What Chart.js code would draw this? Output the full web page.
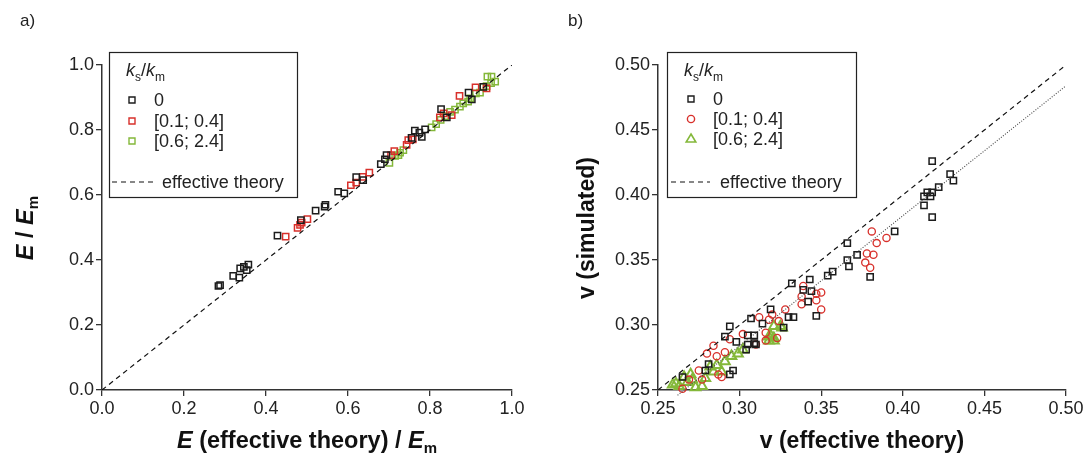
<!DOCTYPE html>
<html>
<head>
<meta charset="utf-8">
<script src="https://cdn.jsdelivr.net/npm/chart.js@4.4.0/dist/chart.umd.min.js"></script>
<style>
  html, body { margin: 0; padding: 0; background: #fff; }
  #wrap { position: relative; width: 1088px; height: 464px; }
  canvas { position: absolute; top: 0; }
  #panel-a { left: 0; }
  #panel-b { left: 544px; }
</style>
</head>
<body>
<div id="wrap">
  <canvas id="panel-a" width="544" height="464"></canvas>
  <canvas id="panel-b" width="544" height="464"></canvas>
</div>
<script>
// ---- panel a) : E / Em ----
var aBlackX = [0.284, 0.288, 0.320, 0.335, 0.337, 0.346, 0.353, 0.357, 0.428, 0.485, 0.521, 0.543, 0.545, 0.576, 0.591, 0.620, 0.637, 0.680, 0.690, 0.694, 0.755, 0.763, 0.774, 0.780, 0.788, 0.827, 0.841, 0.894, 0.902, 0.930];
var aBlackY = [0.320, 0.323, 0.351, 0.346, 0.374, 0.379, 0.369, 0.386, 0.475, 0.523, 0.552, 0.564, 0.570, 0.610, 0.605, 0.655, 0.646, 0.695, 0.710, 0.723, 0.776, 0.798, 0.792, 0.779, 0.802, 0.864, 0.839, 0.915, 0.894, 0.933];
var aRedX = [0.448, 0.477, 0.483, 0.487, 0.501, 0.607, 0.620, 0.636, 0.652, 0.705, 0.713, 0.743, 0.747, 0.758, 0.824, 0.833, 0.853, 0.872, 0.911, 0.938];
var aRedY = [0.472, 0.499, 0.508, 0.515, 0.526, 0.630, 0.638, 0.656, 0.669, 0.723, 0.735, 0.754, 0.769, 0.771, 0.839, 0.851, 0.846, 0.905, 0.931, 0.928];
var aGreenX = [0.701, 0.715, 0.723, 0.727, 0.735, 0.804, 0.815, 0.826, 0.837, 0.849, 0.861, 0.873, 0.881, 0.893, 0.898, 0.912, 0.922, 0.930, 0.938, 0.940, 0.949, 0.950, 0.959];
var aGreenY = [0.699, 0.720, 0.723, 0.730, 0.738, 0.808, 0.818, 0.831, 0.843, 0.856, 0.863, 0.872, 0.882, 0.887, 0.897, 0.913, 0.915, 0.933, 0.935, 0.964, 0.944, 0.964, 0.949];
var aTheoryX = [0, 1];
var aTheoryY = [0, 1];

// ---- panel b) : v ----
var bBlackX = [0.265, 0.279, 0.281, 0.291, 0.294, 0.294, 0.296, 0.298, 0.304, 0.305, 0.305, 0.307, 0.309, 0.309, 0.310, 0.314, 0.319, 0.327, 0.330, 0.333, 0.332, 0.339, 0.342, 0.343, 0.344, 0.347, 0.354, 0.357, 0.366, 0.366, 0.367, 0.372, 0.380, 0.395, 0.413, 0.413, 0.415, 0.417, 0.418, 0.418, 0.418, 0.422, 0.429, 0.431];
var bBlackY = [0.260, 0.265, 0.270, 0.291, 0.262, 0.299, 0.265, 0.287, 0.281, 0.285, 0.292, 0.305, 0.286, 0.292, 0.285, 0.301, 0.312, 0.298, 0.306, 0.306, 0.332, 0.327, 0.318, 0.335, 0.326, 0.307, 0.338, 0.341, 0.363, 0.350, 0.345, 0.354, 0.337, 0.372, 0.392, 0.399, 0.402, 0.399, 0.402, 0.426, 0.383, 0.406, 0.416, 0.411];
var bRedX = [0.265, 0.269, 0.275, 0.277, 0.280, 0.284, 0.286, 0.287, 0.289, 0.291, 0.294, 0.302, 0.310, 0.312, 0.316, 0.316, 0.318, 0.320, 0.323, 0.324, 0.328, 0.338, 0.338, 0.339, 0.347, 0.347, 0.350, 0.350, 0.377, 0.378, 0.380, 0.381, 0.382, 0.384, 0.390];
var bRedY = [0.251, 0.258, 0.265, 0.258, 0.278, 0.284, 0.276, 0.262, 0.260, 0.279, 0.289, 0.293, 0.285, 0.306, 0.288, 0.294, 0.304, 0.308, 0.290, 0.303, 0.312, 0.316, 0.322, 0.330, 0.319, 0.324, 0.312, 0.325, 0.348, 0.355, 0.344, 0.372, 0.354, 0.363, 0.367];
var bGreenX = [0.259, 0.261, 0.263, 0.266, 0.268, 0.270, 0.271, 0.273, 0.277, 0.279, 0.282, 0.284, 0.286, 0.289, 0.291, 0.295, 0.299, 0.302, 0.318, 0.318, 0.319, 0.321, 0.321, 0.321, 0.325, 0.326];
var bGreenY = [0.254, 0.255, 0.253, 0.260, 0.256, 0.262, 0.258, 0.252, 0.253, 0.259, 0.268, 0.264, 0.269, 0.264, 0.272, 0.276, 0.278, 0.281, 0.288, 0.291, 0.292, 0.288, 0.290, 0.299, 0.299, 0.298];
var bTheoryX = [0.25, 0.50];
var bTheoryY = [0.25, 0.50];
var bFitX = [0.262, 0.50];
var bFitY = [0.246, 0.484];

var legendLabels = ["0", "[0.1; 0.4]", "[0.6; 2.4]"];
var theoryLabel = "effective theory";

var BLACK = "#1c1c1c";
var RED = "#d8302b";
var GREEN = "#84b83a";
var FONT = "'Liberation Sans', Arial, Helvetica, sans-serif";

Chart.defaults.font.family = FONT;
Chart.defaults.color = "#222";

function points(xs, ys) {
  return xs.map(function (x, i) { return { x: x, y: ys[i] }; });
}

function richText(ctx, parts, x, y, align) {
  var total = 0;
  parts.forEach(function (p) {
    ctx.font = p.font;
    p.w = ctx.measureText(p.t).width;
    total += p.w;
  });
  var cx = align === "center" ? x - total / 2 : x;
  ctx.textAlign = "left";
  ctx.textBaseline = "alphabetic";
  parts.forEach(function (p) {
    ctx.font = p.font;
    ctx.fillText(p.t, cx, y + (p.dy || 0));
    cx += p.w;
  });
}

function marker(ctx, style, x, y, color) {
  ctx.save();
  ctx.strokeStyle = color;
  ctx.lineWidth = style === "triangle" ? 1.6 : 1.4;
  ctx.beginPath();
  if (style === "rect") {
    ctx.rect(x - 3, y - 3, 6, 6);
  } else if (style === "circle") {
    ctx.arc(x, y, 3.6, 0, Math.PI * 2);
  } else {
    ctx.moveTo(x, y - 5);
    ctx.lineTo(x + 4.8, y + 3);
    ctx.lineTo(x - 4.8, y + 3);
    ctx.closePath();
  }
  ctx.stroke();
  ctx.restore();
}

// legend box + titles, drawn after the datasets
function panelDecor(cfg) {
  return {
    id: "decor",
    afterDraw: function (chart) {
      var ctx = chart.ctx;
      var b = cfg.box;
      ctx.save();
      ctx.fillStyle = "#fff";
      ctx.fillRect(b.x, b.y, b.w, b.h);
      ctx.strokeStyle = "#222";
      ctx.lineWidth = 1.2;
      ctx.strokeRect(b.x, b.y, b.w, b.h);

      ctx.fillStyle = "#222";
      richText(ctx, [
        { t: "k", font: "italic 18px " + FONT },
        { t: "s", font: "12px " + FONT, dy: 5 },
        { t: "/", font: "18px " + FONT },
        { t: "k", font: "italic 18px " + FONT },
        { t: "m", font: "12px " + FONT, dy: 5 }
      ], cfg.titleX, 76, "left");

      for (var i = 0; i < legendLabels.length; i++) {
        var ry = cfg.rowY[i];
        marker(ctx, cfg.styles[i], cfg.markX, ry, cfg.colors[i]);
        ctx.fillStyle = "#222";
        ctx.font = "18px " + FONT;
        ctx.textAlign = "left";
        ctx.textBaseline = "middle";
        ctx.fillText(legendLabels[i], cfg.textX, ry + 1);
      }

      ctx.strokeStyle = "#111";
      ctx.lineWidth = 1.2;
      ctx.setLineDash([5, 4]);
      ctx.beginPath();
      ctx.moveTo(cfg.dashX0, 182);
      ctx.lineTo(cfg.dashX1, 182);
      ctx.stroke();
      ctx.setLineDash([]);
      ctx.font = "18px " + FONT;
      ctx.textBaseline = "middle";
      ctx.fillText(theoryLabel, cfg.theoryX, 183);

      // panel letter
      ctx.font = "17px " + FONT;
      ctx.textBaseline = "middle";
      ctx.fillText(cfg.letter, cfg.letterX, 21);

      // x title
      ctx.fillStyle = "#111";
      richText(ctx, cfg.xTitle, cfg.xTitleX, 448, "center");

      // y title (rotated)
      ctx.translate(cfg.yTitleX, 228);
      ctx.rotate(-Math.PI / 2);
      richText(ctx, cfg.yTitle, 0, 0, "center");
      ctx.restore();
    }
  };
}

function axis(min, max, step, digits, fit) {
  return {
    type: "linear",
    min: min,
    max: max,
    afterFit: fit,
    ticks: {
      stepSize: step,
      padding: 2,
      color: "#222",
      font: { size: 18 },
      callback: function (v) { return Number(v).toFixed(digits); }
    },
    grid: {
      drawOnChartArea: false,
      drawTicks: true,
      tickLength: 6,
      color: "#333",
      lineWidth: 1.3
    },
    border: { display: true, color: "#333", width: 1.5 }
  };
}

function scatterSet(label, data, style, color, radius, width) {
  return {
    label: label,
    data: data,
    pointStyle: style,
    pointRadius: radius,
    pointHoverRadius: radius,
    pointBorderWidth: width,
    borderColor: color,
    pointBorderColor: color,
    backgroundColor: "transparent",
    pointBackgroundColor: "transparent",
    showLine: false,
    clip: false
  };
}

//-----------------
//- PANEL a)      -
//-----------------
var panelA = new Chart(document.getElementById("panel-a"), {
  type: "scatter",
  data: {
    datasets: [
      {
        label: theoryLabel,
        data: points(aTheoryX, aTheoryY),
        showLine: true,
        borderColor: "#111",
        borderWidth: 1.2,
        borderDash: [5, 4],
        pointRadius: 0,
        fill: false
      },
      scatterSet(legendLabels[0], points(aBlackX, aBlackY), "rect", BLACK, 4.4, 1.5),
      scatterSet(legendLabels[1], points(aRedX, aRedY), "rect", RED, 4.4, 1.5),
      scatterSet(legendLabels[2], points(aGreenX, aGreenY), "rect", GREEN, 4.4, 1.5)
    ]
  },
  options: {
    responsive: false,
    animation: false,
    layout: { padding: { left: 0, top: 65, right: 32, bottom: 0 } },
    plugins: { legend: { display: false }, tooltip: { enabled: false } },
    scales: {
      x: axis(0, 1, 0.2, 1, function (s) { s.height = 74; }),
      y: axis(0, 1, 0.2, 1, function (s) { s.width = 102; })
    }
  },
  plugins: [panelDecor({
    box: { x: 109.5, y: 52.5, w: 188, h: 145 },
    titleX: 126,
    markX: 132,
    textX: 154,
    rowY: [100, 121, 141],
    styles: ["rect", "rect", "rect"],
    colors: [BLACK, RED, GREEN],
    dashX0: 112,
    dashX1: 153,
    theoryX: 162,
    letter: "a)",
    letterX: 20,
    xTitleX: 307,
    xTitle: [
      { t: "E", font: "italic bold 23.5px " + FONT },
      { t: " (effective theory) / ", font: "bold 23.5px " + FONT },
      { t: "E", font: "italic bold 23.5px " + FONT },
      { t: "m", font: "bold 15px " + FONT, dy: 5 }
    ],
    yTitleX: 33,
    yTitle: [
      { t: "E", font: "italic bold 23.5px " + FONT },
      { t: " / ", font: "bold 23.5px " + FONT },
      { t: "E", font: "italic bold 23.5px " + FONT },
      { t: "m", font: "bold 15px " + FONT, dy: 5 }
    ]
  })]
});

//-----------------
//- PANEL b)      -
//-----------------
var panelB = new Chart(document.getElementById("panel-b"), {
  type: "scatter",
  data: {
    datasets: [
      {
        label: theoryLabel,
        data: points(bTheoryX, bTheoryY),
        showLine: true,
        borderColor: "#111",
        borderWidth: 1.2,
        borderDash: [5, 4],
        pointRadius: 0,
        fill: false
      },
      {
        label: "fit",
        data: points(bFitX, bFitY),
        showLine: true,
        borderColor: "#444",
        borderWidth: 1.1,
        borderDash: [1, 1.6],
        pointRadius: 0,
        fill: false,
        clip: false
      },
      scatterSet(legendLabels[0], points(bBlackX, bBlackY), "rect", BLACK, 4.4, 1.5),
      scatterSet(legendLabels[1], points(bRedX, bRedY), "circle", RED, 3.6, 1.3),
      scatterSet(legendLabels[2], points(bGreenX, bGreenY), "triangle", GREEN, 5.6, 2)
    ]
  },
  options: {
    responsive: false,
    animation: false,
    layout: { padding: { left: 0, top: 65, right: 22, bottom: 0 } },
    plugins: { legend: { display: false }, tooltip: { enabled: false } },
    scales: {
      x: axis(0.25, 0.5, 0.05, 2, function (s) { s.height = 74; }),
      y: axis(0.25, 0.5, 0.05, 2, function (s) { s.width = 114; })
    }
  },
  plugins: [panelDecor({
    box: { x: 123.5, y: 52.5, w: 189, h: 145 },
    titleX: 140,
    markX: 147,
    textX: 169,
    rowY: [99, 119, 139],
    styles: ["rect", "circle", "triangle"],
    colors: [BLACK, RED, GREEN],
    dashX0: 127,
    dashX1: 166,
    theoryX: 176,
    letter: "b)",
    letterX: 24,
    xTitleX: 318,
    xTitle: [
      { t: "v (effective theory)", font: "bold 23px " + FONT }
    ],
    yTitleX: 50,
    yTitle: [
      { t: "v (simulated)", font: "bold 23px " + FONT }
    ]
  })]
});
</script>
</body>
</html>
